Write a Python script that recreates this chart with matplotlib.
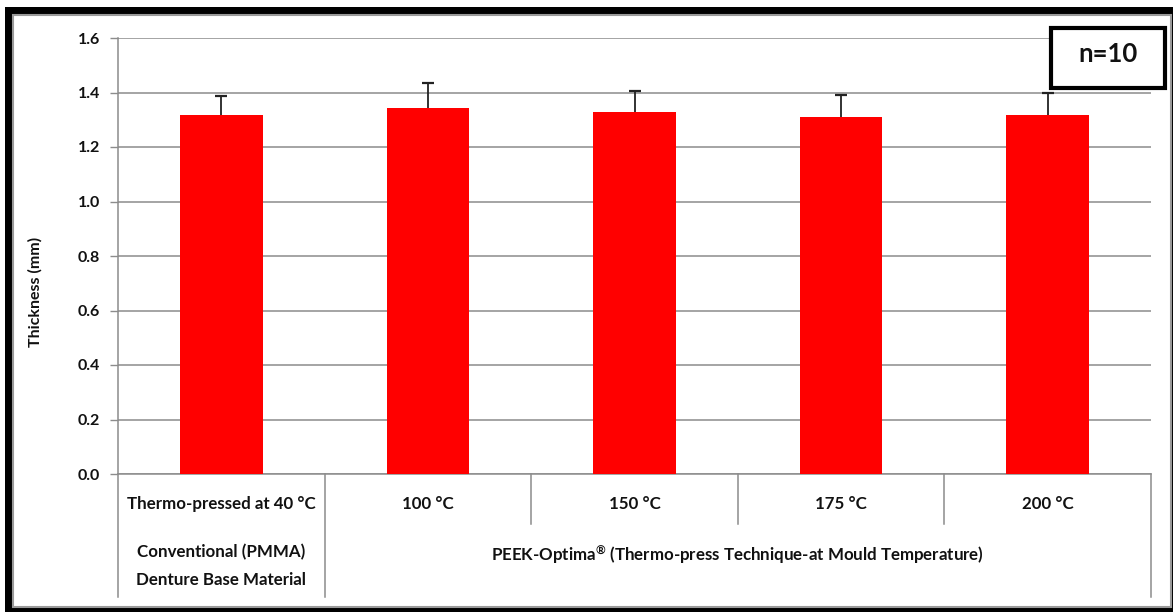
import matplotlib
matplotlib.use("Agg")
import matplotlib.pyplot as plt
from matplotlib.patches import Rectangle
import matplotlib.transforms as mtransforms

# Thickness data (mm), n=10 per group
categories = ["Thermo-pressed at 40 °C", "100 °C", "150 °C", "175 °C", "200 °C"]
means = [1.318, 1.343, 1.329, 1.311, 1.318]
sd = [0.068, 0.093, 0.078, 0.081, 0.079]
group_labels = ["Conventional (PMMA)\nDenture Base Material",
                r"PEEK-Optima$^{\mathregular{®}}$ (Thermo-press Technique-at Mould Temperature)"]
yticks = [0.0, 0.2, 0.4, 0.6, 0.8, 1.0, 1.2, 1.4, 1.6]

plt.rcParams["font.family"] = ["Lato", "DejaVu Sans"]
plt.rcParams["font.weight"] = "bold"
plt.rcParams["mathtext.default"] = "regular"

W, H = 1173, 612
fig = plt.figure(figsize=(W / 100, H / 100), dpi=100)
fig.patch.set_facecolor("white")

# black outer frame with white panel inside
fig.patches.append(Rectangle((5 / W, 0), (W - 5) / W, (H - 7) / H, transform=fig.transFigure,
                             facecolor="black", edgecolor="none", zorder=-10))
fig.patches.append(Rectangle((13 / W, 5 / H), (1171 - 13) / W, (597 - 5) / H,
                             transform=fig.transFigure, facecolor="white",
                             edgecolor="#9a9a9a", linewidth=1.5, zorder=-9))

ax_l, ax_r, ax_t, ax_b = 118, 1151, 38, 474
ax = fig.add_axes([ax_l / W, (H - ax_b) / H, (ax_r - ax_l) / W, (ax_b - ax_t) / H])
ax.set_facecolor("none")

x = list(range(len(categories)))
ax.bar(x, means, width=0.40, color="#ff0000", zorder=3)
# symmetric bars drawn beneath the columns so only the upper arm shows
ax.errorbar(x, means, yerr=sd, fmt="none", ecolor="#222222",
            elinewidth=1.3, capsize=4.5, capthick=1.6, zorder=2)

ax.set_xlim(-0.5, len(categories) - 0.5)
ax.set_ylim(0, 1.6)
ax.set_yticks(yticks)
ax.set_yticklabels([f"{v:.1f}" for v in yticks], fontsize=11.5, fontweight="bold",
                   color="#111111")
ax.tick_params(axis="y", length=6, width=1, color="#8c8c8c", pad=7)
ax.set_xticks([])
ax.yaxis.grid(True, color="#8c8c8c", linewidth=1.1, zorder=0)
ax.set_axisbelow(True)
for s in ["top", "right"]:
    ax.spines[s].set_visible(False)
for s in ["left", "bottom"]:
    ax.spines[s].set_color("#8c8c8c")
    ax.spines[s].set_linewidth(1.1)

# multi-level category axis
trans = mtransforms.blended_transform_factory(ax.transData, ax.transAxes)
h = ax_b - ax_t
row1_bottom = -(524 - ax_b) / h
row2_bottom = -(597 - ax_b) / h
for xd in [-0.5, 0.5, 1.5, 2.5, 3.5, 4.5]:
    bottom = row2_bottom if xd in (-0.5, 0.5, 4.5) else row1_bottom
    ax.plot([xd, xd], [0, bottom], transform=trans, color="#8c8c8c",
            linewidth=1.1, clip_on=False)

row1_y = -(504 - ax_b) / h
for xi, lab in zip(x, categories):
    ax.text(xi, row1_y, lab, transform=trans, ha="center", va="center",
            fontsize=12.2, fontweight="bold", color="#111111")

row2_y = -(544 - ax_b) / h
ax.text(0, row2_y, group_labels[0], transform=trans, ha="center", va="top",
        fontsize=12.2, fontweight="bold", color="#111111", linespacing=1.9)
ax.text(2.5, row2_y, group_labels[1], transform=trans, ha="center", va="top",
        fontsize=12.2, fontweight="bold", color="#111111")

fig.text(35 / W, 1 - 292 / H, "Thickness (mm)", rotation=90, ha="center",
         va="center", fontsize=11.5, fontweight="bold", color="#111111")

# sample-size box
fig.patches.append(Rectangle((1051 / W, (H - 88) / H), (1165 - 1051) / W, (88 - 28) / H,
                             transform=fig.transFigure, facecolor="white",
                             edgecolor="black", linewidth=3, zorder=5))
fig.text(1108 / W, 1 - 54 / H, "n=10", ha="center", va="center", fontsize=18.5,
         fontweight="bold", color="#111111", zorder=6)

fig.savefig("out.png", dpi=100)
